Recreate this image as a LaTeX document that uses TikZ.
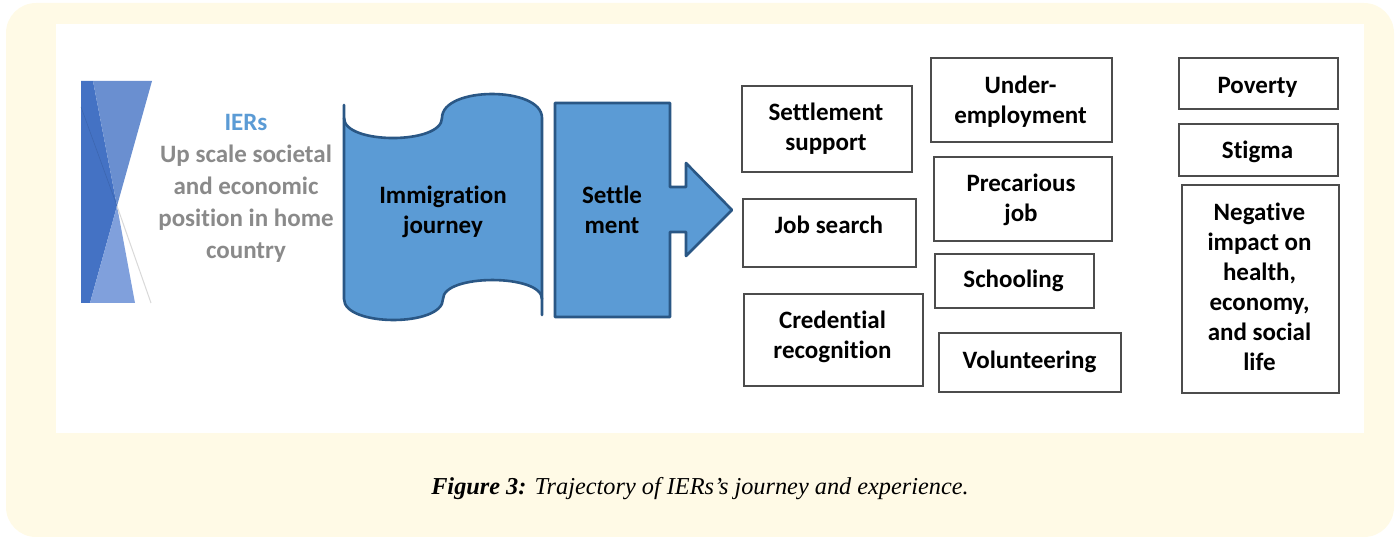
\documentclass[tikz,border=0pt]{standalone}
\usepackage{fontspec}
\setmainfont{Carlito}[Ligatures={NoCommon}]
\newfontfamily\capfont{Liberation Serif}
\definecolor{cream}{HTML}{FFFAE6}
\definecolor{dkblue}{HTML}{4472C4}
\definecolor{upblue}{HTML}{6A8FD0}
\definecolor{lowblue}{HTML}{80A0DC}
\definecolor{shapefill}{HTML}{5B9BD5}
\definecolor{shapeline}{HTML}{2A5785}
\definecolor{iersblue}{HTML}{5B9BD5}
\definecolor{iersgray}{HTML}{8A8A8A}
\newcommand\mlines[1]{\vtop{\halign{\hfil##\hfil\cr#1\crcr}}}
\tikzset{
  boxst/.style={draw=black!70, line width=1.2pt, fill=white, inner sep=0pt, outer sep=0pt},
  txt/.style={anchor=base, inner sep=0pt, font=\fontsize{25}{30}\selectfont\bfseries},
  bluest/.style={fill=shapefill, draw=shapeline, line width=2.6pt, line join=round},
}
\begin{document}
\begin{tikzpicture}[x=1pt, y=-1pt]
\useasboundingbox (0,0) rectangle (1398,537);
% background
\fill[cream] (6,3) [rounded corners=30pt] rectangle (1394,537);
\fill[white] (56,24) rectangle (1364,433);
% left triangles
\fill[dkblue] (81,81) -- (93,81) -- (117,206) -- (90,303) -- (81,303) -- cycle;
\fill[upblue] (93,81) -- (152,81) -- (117,206) -- cycle;
\fill[lowblue] (117,206) -- (90,303) -- (135,303) -- cycle;
\draw[black!15, line width=1pt] (117,206) -- (151,303);
\draw[dkblue!80!black, line width=0.6pt, opacity=0.5] (81,107) -- (117,206);
% IERs text
\node[txt, font=\fontsize{25}{32}\selectfont\bfseries, text=iersgray] (iers) at (246,131)
  {\mlines{\textcolor{iersblue}{IERs}\cr Up scale societal\cr and economic\cr position in home\cr country}};
% Immigration journey (tape shape)
\path[bluest, draw=none] (344,118) .. controls (344,144.7) and (442,144.7) .. (442,118)
  .. controls (442,86) and (542,86) .. (542,118) -- (542,299)
  .. controls (542,273.7) and (443,273.7) .. (443,299)
  .. controls (443,327) and (344,327) .. (344,299) -- cycle;
\draw[bluest, fill=none, line cap=round] (344,105) -- (344,299)
  .. controls (344,327) and (443,327) .. (443,299)
  .. controls (443,273.7) and (542,273.7) .. (542,299) -- (542,315);
\draw[bluest, fill=none, line cap=round] (344,118) .. controls (344,144.7) and (442,144.7) .. (442,118)
  .. controls (442,86) and (542,86) .. (542,118) -- (542,299);
\node[txt] (imm) at (443,204) {\mlines{Immigration\cr journey}};
% Settlement arrow
\draw[bluest] (555,103) -- (670,103) -- (670,187) -- (686,187) -- (686,163) -- (732,210)
  -- (686,256) -- (686,232) -- (670,232) -- (670,317) -- (555,317) -- cycle;
\node[txt] (set) at (612,204) {\mlines{Settle\cr ment}};
% middle column
\node[boxst, minimum width=170pt, minimum height=86pt] (b1) at (827,129) {};
\node[txt] (t1) at (826,121) {\mlines{Settlement\cr support}};
\node[boxst, minimum width=173pt, minimum height=68pt] (b2) at (829.5,233) {};
\node[txt] (t2) at (829,234) {Job search};
\node[boxst, minimum width=179pt, minimum height=92pt] (b3) at (833.5,340) {};
\node[txt] (t3) at (832.5,329) {\mlines{Credential\cr recognition}};
% second column
\node[boxst, minimum width=181pt, minimum height=84pt] (c1) at (1021.5,100) {};
\node[txt] (u1) at (1020.5,94) {\mlines{Under-\cr employment}};
\node[boxst, minimum width=178pt, minimum height=84pt] (c2) at (1023,199) {};
\node[txt] (u2) at (1021,192) {\mlines{Precarious\cr job}};
\node[boxst, minimum width=159pt, minimum height=54pt] (c3) at (1014.5,281) {};
\node[txt] (u3) at (1013.5,288) {Schooling};
\node[boxst, minimum width=182pt, minimum height=59pt] (c4) at (1030,362.5) {};
\node[txt] (u4) at (1029.5,369) {Volunteering};
% third column
\node[boxst, minimum width=159pt, minimum height=51pt] (d1) at (1258.5,83.5) {};
\node[txt] (v1) at (1257.5,94) {Poverty};
\node[boxst, minimum width=159pt, minimum height=52pt] (d2) at (1258.5,150) {};
\node[txt] (v2) at (1257.5,159) {Stigma};
\node[boxst, minimum width=157pt, minimum height=208pt] (d3) at (1260.5,289) {};
\node[txt] (v3) at (1259.5,221) {\mlines{Negative\cr impact on\cr health,\cr economy,\cr and social\cr life}};
% caption
\node[anchor=base, inner sep=0pt, font=\capfont\fontsize{24.3}{28}\selectfont\itshape] (cap) at (700,494)
  {\textbf{Figure 3:} Trajectory of IERs’s journey and experience.};
\end{tikzpicture}
\end{document}
